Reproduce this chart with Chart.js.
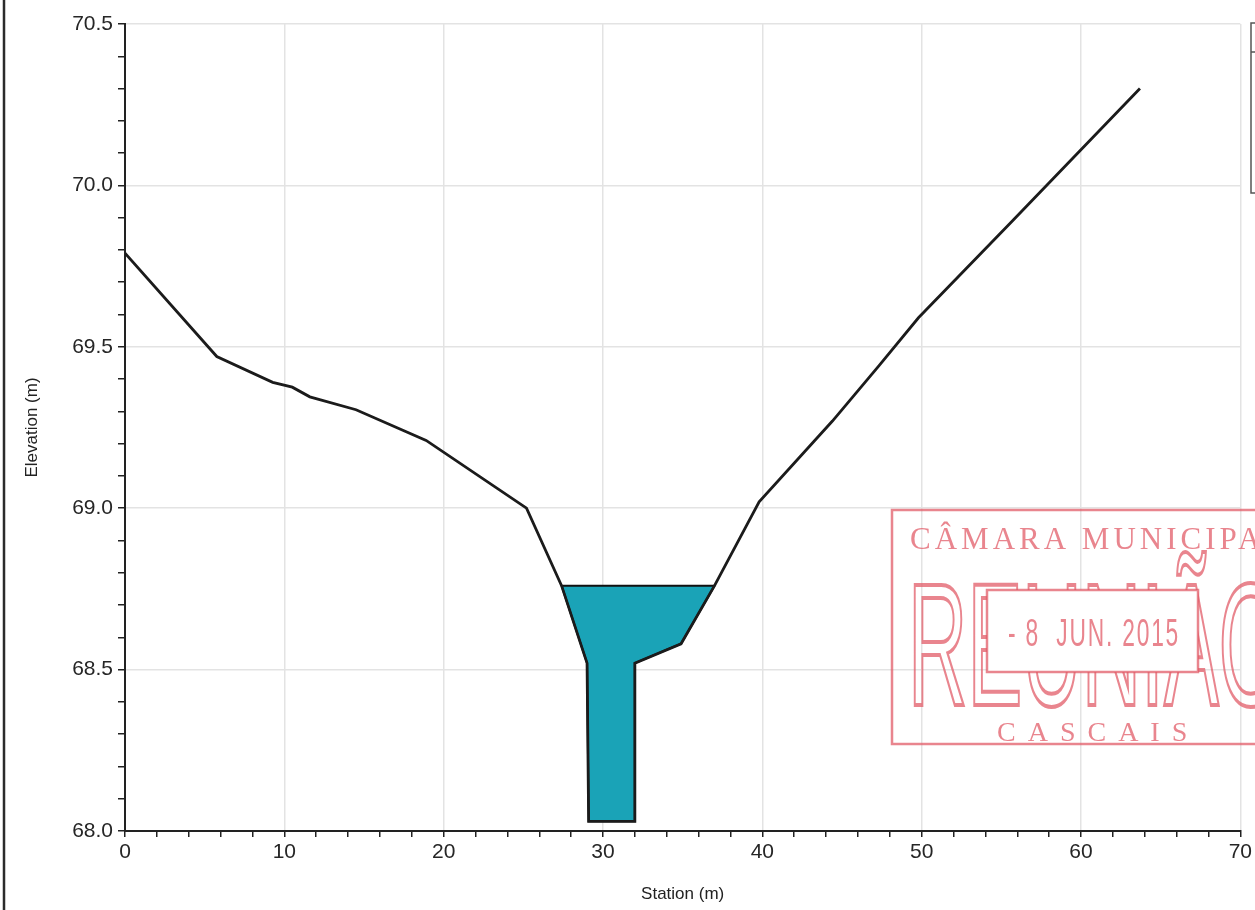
<!DOCTYPE html>
<html>
<head>
<meta charset="utf-8">
<script src="https://cdn.jsdelivr.net/npm/chart.js@4.4.1/dist/chart.umd.min.js"></script>
<style>
  html, body { margin: 0; padding: 0; background: #fff; }
  #wrap { width: 1255px; height: 910px; }
</style>
</head>
<body>
<div id="wrap"><canvas id="myChart" width="1255" height="910"></canvas></div>
<script>
// ground profile (station m, elevation m)
const groundStation = [0, 5.76, 9.27, 10.5, 11.6, 14.5, 18.9, 25.2, 27.4, 29.0, 29.1, 32.0, 32.0, 34.9, 37.0, 39.8, 44.4, 47.3, 49.8, 55.6, 63.7]
const groundElev = [69.79, 69.47, 69.39, 69.375, 69.345, 69.305, 69.21, 69.0, 68.76, 68.52, 68.03, 68.03, 68.52, 68.58, 68.76, 69.02, 69.27, 69.44, 69.59, 69.885, 70.30]

// water section polygon
const waterStation = [27.4, 29.0, 29.1, 32.0, 32.0, 34.9, 37.0, 27.4]
const waterElev = [68.76, 68.52, 68.03, 68.03, 68.52, 68.58, 68.76, 68.76]

const xLabels = [0, 10, 20, 30, 40, 50, 60, 70]
const yLabels = ['68.0', '68.5', '69.0', '69.5', '70.0', '70.5']

const toPoints = (xs, ys) => xs.map((x, i) => ({x: x, y: ys[i]}))

const isMajorX = v => xLabels.indexOf(Math.round(v)) >= 0 && Math.abs(v - Math.round(v)) < 1e-6
const isMajorY = v => yLabels.indexOf(v.toFixed(1)) >= 0 && Math.abs(v * 10 - Math.round(v * 10)) < 1e-6 && Math.round(v * 10) % 5 === 0

// scan leftovers: frame edge, cut legend box and the red stamp
const extras = {
    id: 'extras',
    afterDraw(chart) {
        const c = chart.ctx
        c.save()
        c.strokeStyle = '#2b2b2b'
        c.lineWidth = 2.5
        c.beginPath(); c.moveTo(4, 0); c.lineTo(4, 910); c.stroke()

        c.strokeStyle = '#555'
        c.lineWidth = 1.5
        c.strokeRect(1251, 23, 20, 170)
        c.beginPath(); c.moveTo(1251, 52); c.lineTo(1255, 52); c.stroke()

        // stamp
        const red = 'rgba(226, 92, 104, 0.75)'
        c.strokeStyle = red
        c.fillStyle = red
        c.lineWidth = 2.5
        c.strokeRect(892, 510, 400, 234)

        c.font = '31px "Liberation Serif"'
        c.letterSpacing = '4px'
        c.textBaseline = 'alphabetic'
        c.textAlign = 'left'
        c.fillText('CÂMARA MUNICIPAL', 910, 549)

        c.save()
        c.translate(908, 705)
        c.scale(0.47, 1)
        c.letterSpacing = '0px'
        c.font = '175px "Liberation Sans"'
        c.lineWidth = 4
        c.strokeText('REUNIÃO', 0, 0)
        c.restore()

        c.fillStyle = '#fff'
        c.fillRect(987, 590, 211, 82)
        c.strokeRect(987, 590, 211, 82)

        c.fillStyle = red
        c.save()
        c.translate(1094, 636)
        c.scale(0.6, 1)
        c.letterSpacing = '3px'
        c.font = '38px "Liberation Sans"'
        c.textAlign = 'center'
        c.textBaseline = 'middle'
        c.fillText('- 8  JUN. 2015', 0, 0)
        c.restore()

        c.font = '28px "Liberation Serif"'
        c.letterSpacing = '12px'
        c.textAlign = 'left'
        c.textBaseline = 'middle'
        c.fillText('CASCAIS', 997, 734)
        c.restore()
    }
}

const ctx = document.getElementById('myChart')
const myChart = new Chart(ctx, {
    type: 'line',
    data: {
        datasets: [{
            label: 'Ground',
            data: toPoints(groundStation, groundElev),
            borderColor: '#1b1b1b',
            borderWidth: 2.8,
            pointRadius: 0,
            fill: false,
            tension: 0
        }, {
            label: 'Water',
            data: toPoints(waterStation, waterElev),
            borderColor: '#111',
            borderWidth: 2,
            backgroundColor: '#1aa3b7',
            pointRadius: 0,
            fill: 'shape',
            tension: 0
        }]
    },
    options: {
        responsive: false,
        devicePixelRatio: 1,
        animation: false,
        layout: { padding: { left: 0, top: 24, right: 13, bottom: 0 } },
        plugins: {
            legend: { display: false },
            tooltip: { enabled: false }
        },
        scales: {
            x: {
                type: 'linear',
                min: 0,
                max: 70,
                afterFit(scale) { scale.height = 79 },
                border: { color: '#222', width: 2 },
                grid: {
                    color: c => (c.tick && isMajorX(c.tick.value)) ? '#e3e3e3' : 'rgba(0,0,0,0)',
                    lineWidth: 1.5,
                    tickColor: '#222',
                    tickLength: 6,
                    tickWidth: 1.5
                },
                ticks: {
                    stepSize: 2,
                    maxTicksLimit: 100,
                    autoSkip: false,
                    maxRotation: 0,
                    padding: 3,
                    color: '#262626',
                    font: { family: 'Liberation Sans', size: 21 },
                    callback: v => isMajorX(v) ? String(Math.round(v)) : ''
                },
                title: {
                    display: true,
                    text: 'Station (m)',
                    color: '#222',
                    font: { family: 'Liberation Sans', size: 17 },
                    padding: { top: 0, bottom: 5 }
                }
            },
            y: {
                min: 68,
                max: 70.5,
                afterFit(scale) { scale.width = 125 },
                border: { color: '#222', width: 2 },
                grid: {
                    color: c => (c.tick && isMajorY(c.tick.value)) ? '#e3e3e3' : 'rgba(0,0,0,0)',
                    lineWidth: 1.5,
                    tickColor: '#222',
                    tickLength: 7,
                    tickWidth: 1.5
                },
                ticks: {
                    stepSize: 0.1,
                    maxTicksLimit: 100,
                    autoSkip: false,
                    padding: 5,
                    color: '#262626',
                    font: { family: 'Liberation Sans', size: 21 },
                    callback: v => isMajorY(v) ? v.toFixed(1) : ''
                },
                title: {
                    display: true,
                    text: 'Elevation (m)',
                    color: '#222',
                    font: { family: 'Liberation Sans', size: 17 },
                    padding: { top: 22, bottom: 0 }
                }
            }
        }
    },
    plugins: [extras]
})
</script>
</body>
</html>
